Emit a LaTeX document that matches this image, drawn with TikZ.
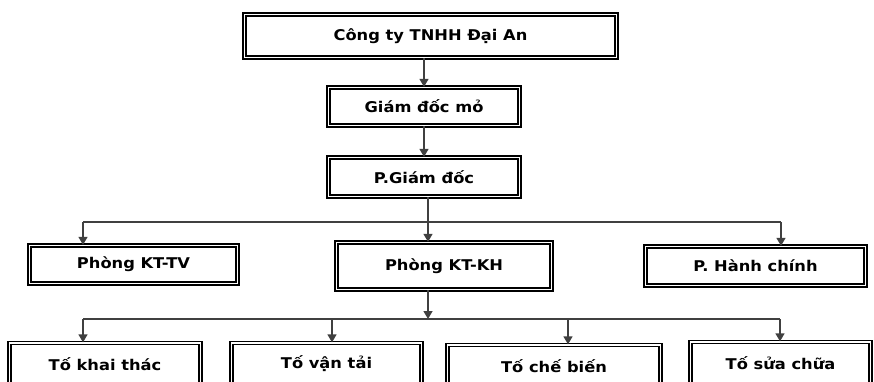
\documentclass[tikz,border=0pt]{standalone}
\usepackage{fontspec}
\newfontfamily\boxfont{DejaVu Sans}[FakeStretch=1.1]
\usetikzlibrary{arrows.meta}

\begin{document}
\begin{tikzpicture}[x=1pt, y=-1pt,
  unit/.style={draw, double, double distance=1.8pt, line width=1.3pt, rectangle, inner sep=0pt,
    font=\boxfont\bfseries\fontsize{14.8}{17}\selectfont},
  link/.style={line width=1.4pt, black!75},
  down/.style={link, -{Triangle[width=9pt, length=8pt]}}]

\clip (0,0) rectangle (874,382);


\node[unit, minimum width=372pt, minimum height=43pt] (company) at (430.5,36) {Công ty TNHH Đại An};
\node[unit, minimum width=191pt, minimum height=38pt] (director) at (424,106.5) {Giám đốc mỏ};
\node[unit, minimum width=191pt, minimum height=39pt] (deputy) at (424,177) {P.Giám đốc};

\node[unit, minimum width=208pt, minimum height=38pt] (kttv) at (133.5,264.5) {Phòng KT-TV};
\node[unit, minimum width=215pt, minimum height=47pt] (ktkh) at (444,266) {Phòng KT-KH};
\node[unit, minimum width=220pt, minimum height=39pt] (admin) at (755.5,266) {P. Hành chính};

\node[unit, minimum width=191pt, minimum height=42pt] (mining) at (105,364) {Tố khai thác};
\node[unit, minimum width=190pt, minimum height=42pt] (transport) at (326.5,364) {Tố vận tải};
\node[unit, minimum width=213pt, minimum height=42pt] (processing) at (554,366) {Tố chế biến};
\node[unit, minimum width=180pt, minimum height=42pt] (repair) at (780.5,363) {Tố sửa chữa};


\coordinate (T1) at (83,222);
\coordinate (T2) at (428,222);
\coordinate (T3) at (781,222);

\coordinate (D1) at (83,319);
\coordinate (D2) at (332,319);
\coordinate (D3) at (568,319);
\coordinate (D4) at (780,319);


\draw[down] (company.south -| director.north) -- (director.north);
\draw[down] (director.south) -- (deputy.north);

\draw[link] (deputy.south -| T2) -- (T2);
\draw[link] (T1) -- (T3);
\draw[down] (T1) -- (T1 |- kttv.north);
\draw[down] (T2) -- (T2 |- ktkh.north);
\draw[down] (T3) -- (T3 |- admin.north);

\draw[down] (ktkh.south -| T2) -- (T2 |- D1);
\draw[link] (D1) -- (D4);
\draw[down] (D1) -- (D1 |- mining.north);
\draw[down] (D2) -- (D2 |- transport.north);
\draw[down] (D3) -- (D3 |- processing.north);
\draw[down] (D4) -- (D4 |- repair.north);

\end{tikzpicture}
\end{document}
